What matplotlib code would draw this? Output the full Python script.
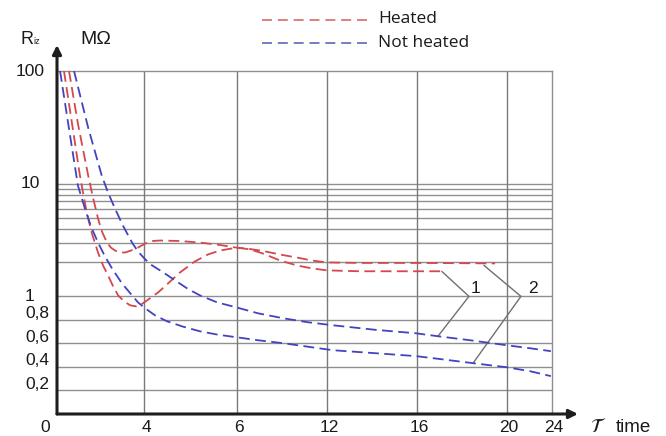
import numpy as np
import matplotlib
matplotlib.use('Agg')
import matplotlib.pyplot as plt
from matplotlib.lines import Line2D

# ---------------- data ----------------
time_ticks = [0, 4, 6, 12, 16, 20, 24]
time_tick_labels = ['0', '4', '6', '12', '16', '20', '24']
r_ticks = [100, 10, 1, 0.8, 0.6, 0.4, 0.2]
r_tick_labels = ['100', '10', '1', '0,8', '0,6', '0,4', '0,2']
r_minor = [2, 3, 4, 5, 6, 7, 8, 9]

# curve 1, heated (deep dip)
t_heated_1 = [0.32, 0.69, 1.05, 1.36, 1.60, 1.88, 2.11, 2.34, 2.57, 2.80, 3.07, 3.35, 3.62, 3.94,
              4.12, 4.30, 4.51, 4.77, 5.09, 5.37, 5.63, 6.0, 6.87, 7.73, 8.87, 10.0, 11.0, 12.0, 13.47, 17.16]
r_heated_1 = [100, 34.0, 11.8, 5.57, 3.61, 2.45, 1.88, 1.53, 1.23, 1.02, 0.958, 0.924, 0.915, 0.941,
              0.983, 1.085, 1.30, 1.63, 2.04, 2.35, 2.55, 2.71, 2.61, 2.40, 2.08, 1.88, 1.77, 1.70, 1.67, 1.67]
# curve 2, heated (shallow dip)
t_heated_2 = [0.55, 0.96, 1.43, 1.65, 1.88, 2.06, 2.29, 2.47, 2.66, 2.89, 3.12, 3.39, 3.71, 4.02,
              4.17, 4.34, 4.77, 5.20, 5.63, 5.98, 6.87, 7.73, 8.87, 10.0, 11.0, 12.0, 13.47, 15.96, 19.47]
r_heated_2 = [100, 34.0, 11.8, 7.52, 4.90, 3.76, 3.0, 2.71, 2.55, 2.45, 2.45, 2.55, 2.71, 2.94,
              3.10, 3.13, 3.10, 3.0, 2.86, 2.71, 2.63, 2.53, 2.35, 2.21, 2.08, 2.0, 1.98, 1.98, 1.96]
# curve 1, not heated
t_cold_1 = [0.78, 1.43, 2.05, 2.34, 2.66, 3.02, 3.44, 3.71, 4.02, 4.17, 4.34, 4.51, 4.66, 4.94,
            5.20, 5.57, 5.98, 7.4, 9.07, 10.73, 12.27, 14.13, 15.96, 16.93, 18.36, 19.96, 22.04, 23.9]
r_cold_1 = [100, 31.3, 11.8, 8.32, 6.0, 4.25, 3.0, 2.50, 2.13, 1.88, 1.70, 1.53, 1.39, 1.165,
            1.02, 0.949, 0.907, 0.856, 0.814, 0.780, 0.754, 0.716, 0.686, 0.661, 0.627, 0.585, 0.559, 0.534]
# curve 2, not heated
t_cold_2 = [0.14, 0.55, 0.96, 1.28, 1.56, 1.88, 2.20, 2.52, 2.98, 3.44, 3.71, 4.02, 4.23, 4.49,
            4.84, 5.20, 5.59, 5.98, 7.4, 9.07, 10.73, 12.27, 14.13, 15.96, 17.24, 18.49, 19.96, 22.04, 23.9]
r_cold_2 = [100, 30.7, 9.6, 6.01, 4.16, 3.0, 2.26, 1.77, 1.30, 1.02, 0.949, 0.898, 0.839, 0.788,
            0.742, 0.703, 0.674, 0.653, 0.627, 0.602, 0.572, 0.542, 0.517, 0.492, 0.462, 0.432, 0.398, 0.364, 0.322]

# ---------------- axis scales ----------------
grid_pos = [0, 0.97, 2, 3, 4, 5, 5.5]   # visual spacing of the time grid


def xf(t):
    return np.interp(np.asarray(t, float), time_ticks, grid_pos)


def xi(u):
    return np.interp(np.asarray(u, float), grid_pos, time_ticks)


K = 1.044


def yf(r):
    r = np.asarray(r, float)
    return np.where(r >= 1, np.log10(np.maximum(r, 1)), K * (r - 1))


def yi(f):
    f = np.asarray(f, float)
    return np.where(f >= 0, 10 ** np.clip(f, 0, 10), 1 + f / K)


W, H = 666, 436
fig = plt.figure(figsize=(W / 100, H / 100), dpi=100)
ax = fig.add_axes([57 / W, 22 / H, 495 / W, 343 / H])
ax.set_xscale('function', functions=(xf, xi))
ax.set_yscale('function', functions=(yf, yi))
ax.set_xlim(0, 24)
ax.set_ylim(0, 100)
ax.set_xticks([])
ax.set_yticks([])
ax.minorticks_off()

grid_c = '#8f8f8f'
for v in r_ticks[1:] + r_minor:
    ax.axhline(v, color=grid_c, lw=1.0, zorder=1)
for t in time_ticks[1:-1]:
    ax.axvline(t, color='#7a7a7a', lw=1.0, zorder=1)

for s in ['top', 'right']:
    ax.spines[s].set_color(grid_c)
    ax.spines[s].set_linewidth(1.0)
for s in ['left', 'bottom']:
    ax.spines[s].set_visible(False)

red = '#d4474d'
blue = '#4343c2'
ls = (0, (6, 3))
lw = 1.3
ax.plot(t_heated_1, r_heated_1, color=red, lw=lw, ls=ls, zorder=3)
ax.plot(t_heated_2, r_heated_2, color=red, lw=lw, ls=ls, zorder=3)
ax.plot(t_cold_1, r_cold_1, color=blue, lw=lw, ls=ls, zorder=3)
ax.plot(t_cold_2, r_cold_2, color=blue, lw=lw, ls=ls, zorder=3)

# axes arrows
arrow_kw = dict(arrowstyle='-|>', lw=2.2, color='#1e1e1e', mutation_scale=13,
                shrinkA=0, shrinkB=0)
ax.annotate('', xy=(0, (414 - 45) / 343), xytext=(0, 0), xycoords='axes fraction',
            arrowprops=arrow_kw, annotation_clip=False)
ax.annotate('', xy=((578 - 57) / 495, 0), xytext=(0, 0), xycoords='axes fraction',
            arrowprops=arrow_kw, annotation_clip=False)

tick_font = dict(family='Liberation Sans', size=12.5, color='#1a1a1a')

# y tick labels
ytr = ax.get_yaxis_transform()
for v, lab in zip(r_ticks, r_tick_labels):
    if v >= 1:
        ax.annotate(lab, xy=(0, v), xycoords=ytr, xytext=(-27, 0),
                    textcoords='offset pixels', ha='center', va='center',
                    annotation_clip=False, **tick_font)
    else:
        ax.annotate(lab, xy=(0, v), xycoords=ytr, xytext=(-32, 6),
                    textcoords='offset pixels', ha='left', va='center',
                    annotation_clip=False, **tick_font)

# x tick labels
xtr = ax.get_xaxis_transform()
for t, lab in zip(time_ticks, time_tick_labels):
    dx = -12 if t == 0 else 2
    ax.annotate(lab, xy=(t, 0), xycoords=xtr, xytext=(dx, -13),
                textcoords='offset pixels', ha='center', va='center',
                annotation_clip=False, **tick_font)


def fx(px):
    return px / W


def fy(py):
    return 1 - py / H


fig.text(fx(598), fy(426), r'$\mathcal{T}$', fontsize=14, ha='center', va='center', color='#1a1a1a')
fig.text(fx(616), fy(427), 'time', ha='left', va='center', family='Liberation Sans', size=13.5, color='#1a1a1a')

# axis titles
fig.text(fx(21), fy(39), 'R', ha='left', va='center', family='Liberation Sans', size=13, color='#1a1a1a')
fig.text(fx(33), fy(42), 'iz', ha='left', va='center', family='Liberation Sans', size=6.5, color='#1a1a1a')
fig.text(fx(80), fy(39), 'MΩ', ha='left', va='center', family='Liberation Sans', size=14, color='#1a1a1a')

# legend
leg_font = dict(family='Open Sans', size=12.5, color='#1a1a1a')
fig.add_artist(Line2D([fx(262), fx(368)], [fy(20), fy(20)], color='#d86a6a', lw=1.2, ls=(0, (6, 3.5))))
fig.add_artist(Line2D([fx(262), fx(368)], [fy(43), fy(43)], color='#5a68b4', lw=1.2, ls=(0, (6, 3.5))))
fig.text(fx(378), fy(19), 'Heated', ha='left', va='center', **leg_font)
fig.text(fx(378), fy(43), 'Not heated', ha='left', va='center', **leg_font)

# curve number callouts
lead_c = '#707070'
ax.plot([17.11, 18.31, 16.93], [1.66, 1.0, 0.661], color=lead_c, lw=1.0, zorder=2)
ax.plot([18.98, 21.24, 18.49], [1.88, 1.0, 0.432], color=lead_c, lw=1.0, zorder=2)
ax.text(18.62, 1.18, '1', ha='center', va='center', **tick_font)
ax.text(22.31, 1.18, '2', ha='center', va='center', **tick_font)

fig.savefig('out.png', dpi=100)
